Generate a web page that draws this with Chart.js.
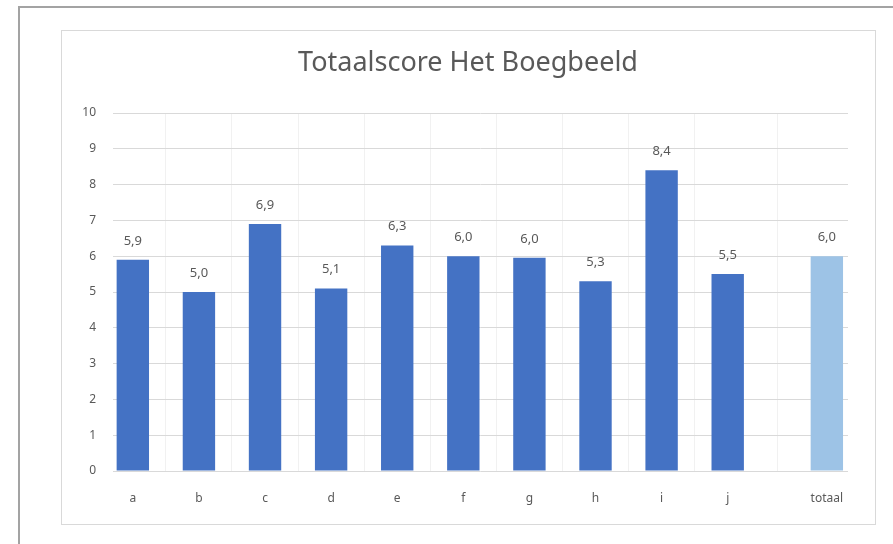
<!DOCTYPE html>
<html>
<head>
<meta charset="utf-8">
<script src="https://cdn.jsdelivr.net/npm/chart.js@4.4.0/dist/chart.umd.min.js"></script>
<style>
  body { margin: 0; background: #fff; overflow: hidden; }
  #outer { position: absolute; left: 18px; top: 6px; width: 1000px; height: 1000px; border: 2px solid #a3a3a3; }
  #inner { position: absolute; left: 61px; top: 30px; width: 813px; height: 493px; border: 1px solid #d9d9d9; }
  #wrap { position: absolute; left: 0; top: 0; width: 893px; height: 544px; }
</style>
</head>
<body>
<div id="outer"></div>
<div id="inner"></div>
<div id="wrap"><canvas id="chart"></canvas></div>
<script>
const categories = ['a', 'b', 'c', 'd', 'e', 'f', 'g', 'h', 'i', 'j', 'totaal'];
const scores = [5.9, 5.0, 6.9, 5.1, 6.3, 6.0, 5.96, 5.3, 8.4, 5.5, 6.0];
const yTicks = [0, 1, 2, 3, 4, 5, 6, 7, 8, 9, 10];

// the total bar sits a half slot further away from the rest
const positions = categories.map(function(c, i) {
    return i < categories.length - 1 ? i : i + 0.5;
});
const colors = categories.map(function(c, i) {
    return i < categories.length - 1 ? '#4472C4' : '#9DC3E6';
});

const valueLabels = {
    id: 'valueLabels',
    afterDatasetsDraw: function(chart) {
        const ctx = chart.ctx;
        const meta = chart.getDatasetMeta(0);
        ctx.save();
        ctx.font = '13px "Noto Sans"';
        ctx.fillStyle = '#595959';
        ctx.textAlign = 'center';
        ctx.textBaseline = 'alphabetic';
        meta.data.forEach(function(bar, i) {
            let txt = scores[i].toFixed(1).replace('.', ',');
            ctx.fillText(txt, bar.x, bar.y - 15);
        });
        ctx.restore();
    }
};

const ctx = document.getElementById('chart').getContext('2d');

new Chart(ctx, {
    type: 'bar',
    data: {
        datasets: [{
            data: scores.map(function(v, i) { return { x: positions[i], y: v }; }),
            backgroundColor: colors,
            borderWidth: 0,
            barPercentage: 0.49,
            categoryPercentage: 1
        }]
    },
    options: {
        responsive: true,
        maintainAspectRatio: false,
        animation: false,
        layout: {
            padding: { left: 45, right: 2, top: 30, bottom: 33 }
        },
        plugins: {
            legend: { display: false },
            tooltip: { enabled: false },
            title: {
                display: true,
                text: 'Totaalscore Het Boegbeeld',
                color: '#595959',
                font: { family: '"Noto Sans"', size: 27, weight: 'normal', lineHeight: 1.2 },
                padding: { top: 17, bottom: 33.6 }
            }
        },
        scales: {
            x: {
                type: 'linear',
                offset: false,
                min: -0.3,
                max: 10.82,
                afterBuildTicks: function(scale) {
                    scale.ticks = positions.map(function(p) { return { value: p }; });
                },
                afterFit: function(scale) { scale.height = 40; },
                border: { display: false },
                grid: { color: '#f1f1f1', drawTicks: false, offset: true },
                ticks: {
                    padding: 20,
                    color: '#595959',
                    font: { family: '"Noto Sans"', size: 12 },
                    autoSkip: false,
                    maxRotation: 0,
                    callback: function(value, index) { return categories[index]; }
                }
            },
            y: {
                min: 0,
                max: 10,
                afterBuildTicks: function(scale) {
                    scale.ticks = yTicks.map(function(v) { return { value: v }; });
                },
                afterFit: function(scale) { scale.width = 68; },
                border: { display: false },
                grid: { color: '#d9d9d9', drawTicks: false },
                ticks: {
                    padding: 17,
                    color: '#595959',
                    font: { family: '"Noto Sans"', size: 12 }
                }
            },
            // empty right side margin so the title centres like the original
            yRight: {
                position: 'right',
                min: 0,
                max: 10,
                afterFit: function(scale) { scale.width = 43; },
                border: { display: false },
                grid: { display: false },
                ticks: { display: false }
            }
        }
    },
    plugins: [valueLabels]
});
</script>
</body>
</html>
